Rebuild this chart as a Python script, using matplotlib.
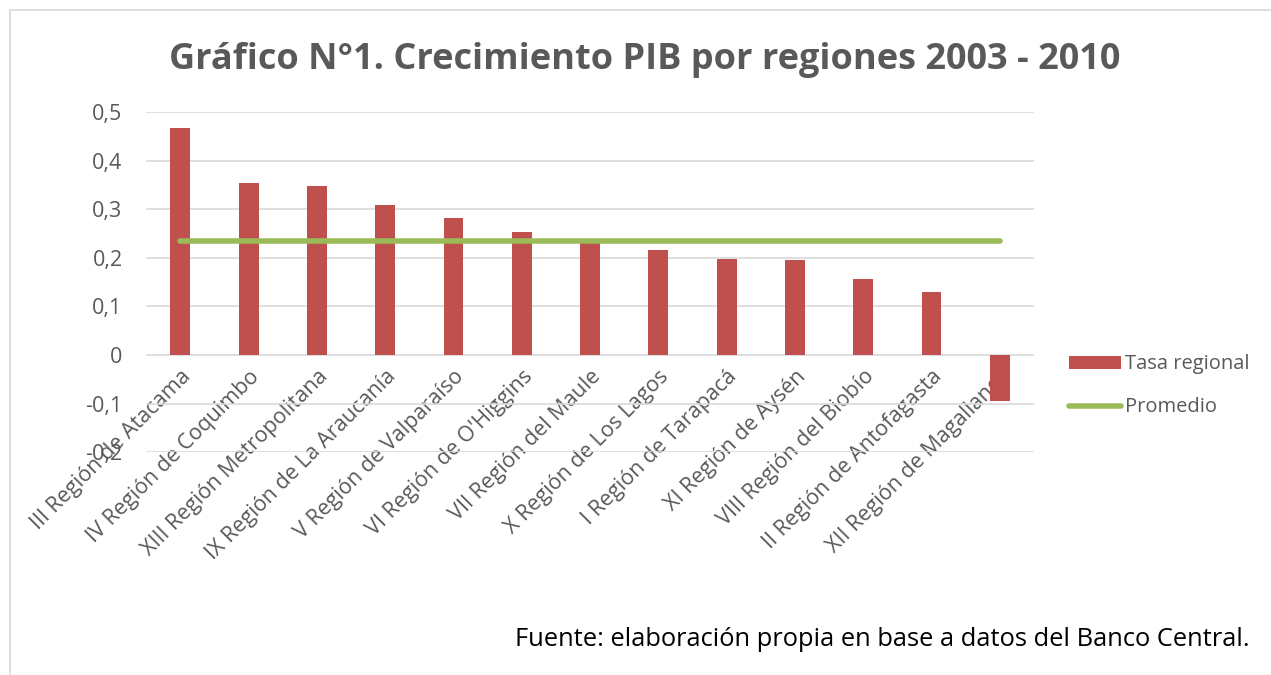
import matplotlib
matplotlib.use("Agg")
import matplotlib.pyplot as plt
from matplotlib.patches import Rectangle
from matplotlib.transforms import ScaledTranslation
import numpy as np

regiones = ["III Región de Atacama", "IV Región de Coquimbo", "XIII Región Metropolitana",
            "IX Región de La Araucanía", "V Región de Valparaíso", "VI Región de O'Higgins",
            "VII Región del Maule", "X Región de Los Lagos", "I Región de Tarapacá",
            "XI Región de Aysén", "VIII Región del Biobío", "II Región de Antofagasta",
            "XII Región de Magallanes"]
tasa = [0.467, 0.354, 0.348, 0.309, 0.282, 0.253, 0.235, 0.216, 0.198, 0.195, 0.156, 0.130, -0.095]
promedio = [0.235] * len(regiones)
yticks = [-0.2, -0.1, 0, 0.1, 0.2, 0.3, 0.4, 0.5]

plt.rcParams['font.family'] = ['Open Sans', 'DejaVu Sans']

fig = plt.figure(figsize=(12.71, 6.75), dpi=100)
fig.patches.append(Rectangle((10/1271, -0.1), 1.2, 1 - 10/675 + 0.1, transform=fig.transFigure,
                             fill=False, edgecolor='#d9d9d9', linewidth=1.2))

ax = fig.add_axes([0.115, 0.330, 0.6985, 0.504])
x = np.arange(len(regiones))
bars = ax.bar(x, tasa, width=0.29, color='#C0504D', label='Tasa regional', zorder=2)
line, = ax.plot(x, promedio, color='#9BBB59', linewidth=4, solid_capstyle='round', label='Promedio', zorder=3)

ax.set_xlim(-0.5, len(regiones) - 0.5)
ax.set_ylim(-0.2, 0.5)
ax.set_yticks(yticks)
ax.set_yticklabels([('%g' % v).replace('.', ',') for v in yticks], fontsize=15.5, color='#595959')
ax.yaxis.grid(True, color='#d9d9d9', linewidth=1.2, zorder=0)
ax.set_axisbelow(True)
ax.spines['bottom'].set_position(('data', 0))
ax.set_xticks(x)
ax.set_xticklabels(regiones, rotation=45, ha='right', va='top', rotation_mode='anchor',
                   fontsize=15.5, color='#595959')
shift = ScaledTranslation(9/100, 0, fig.dpi_scale_trans)
for lbl in ax.get_xticklabels():
    lbl.set_transform(lbl.get_transform() + shift)
ax.tick_params(axis='x', length=0, pad=8)
ax.tick_params(axis='y', length=0, pad=17)
for s in ax.spines.values():
    s.set_visible(False)

fig.text(645/1271, 1 - 60/675, 'Gráfico N°1. Crecimiento PIB por regiones 2003 - 2010', fontsize=26,
         fontweight='bold', color='#595959', ha='center', va='center')

leg = ax.legend([bars, line], ['Tasa regional', 'Promedio'], loc='center left',
                bbox_to_anchor=(1.019, 0.195), frameon=False,
                fontsize=14.5, handlelength=2.6, handleheight=0.6, handletextpad=0.2, labelspacing=1.15)
for t in leg.get_texts():
    t.set_color('#595959')

fig.text(1250/1271, 1 - 640/675, 'Fuente: elaboración propia en base a datos del Banco Central.',
         ha='right', va='center', fontsize=18.4, color='black')

fig.savefig('out.png', dpi=100)
